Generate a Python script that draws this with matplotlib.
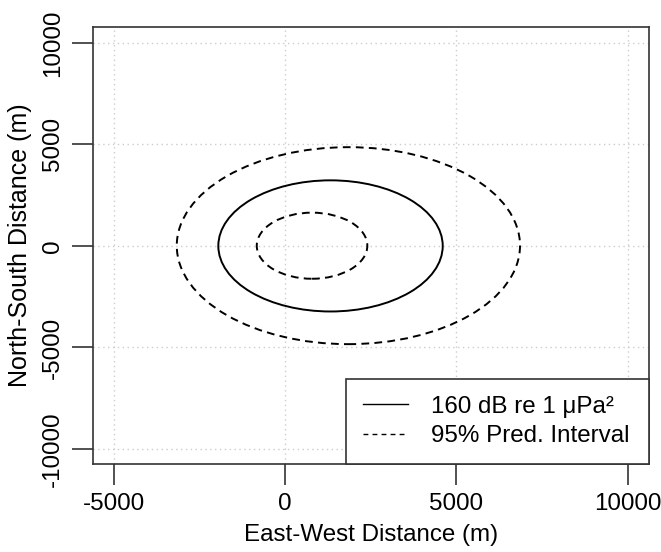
import matplotlib
matplotlib.use("Agg")
import matplotlib.pyplot as plt
from matplotlib.patches import Ellipse
from matplotlib.lines import Line2D

plt.rcParams['font.family'] = ['Liberation Sans', 'DejaVu Sans']

# Contour ellipses (centre x, centre y, half-width, half-height)
contour_names = ["160 dB re 1 μPa²", "lower 95%", "upper 95%"]
center_x = [1327, 788, 1848]
center_y = [0, 10, 12]
half_width = [3272, 1612, 5005]
half_height = [3229, 1627, 4850]
line_kinds = ["solid", "dashed", "dashed"]

xticks = [-5000, 0, 5000, 10000]
yticks = [-10000, -5000, 0, 5000, 10000]
xlim = (-5590, 10606)
ylim = (-10740, 10780)

legend_labels = ["160 dB re 1 μPa²", "95% Pred. Interval"]

fig = plt.figure(figsize=(6.61, 5.52), dpi=100)
ax = fig.add_axes([0.1412, 0.1594, 0.8402, 0.7917])
FS = 17.4

for cx, cy, a, b, kind in zip(center_x, center_y, half_width, half_height, line_kinds):
    if kind == "solid":
        ls = "-"
    else:
        ls = (0, (4.0, 2.7))
    e = Ellipse((cx, cy), 2 * a, 2 * b, fill=False, edgecolor="black",
                linewidth=1.4, linestyle=ls, zorder=3)
    ax.add_patch(e)

ax.set_xlim(*xlim)
ax.set_ylim(*ylim)
ax.set_xticks(xticks)
ax.set_yticks(yticks)
ax.set_xticklabels([str(t) for t in xticks], fontsize=FS)
ax.set_yticklabels([str(t) for t in yticks], fontsize=FS, rotation=90, va="center")
ax.tick_params(axis="both", length=15, width=1.2, color="#333333", pad=6)
ax.grid(True, color="#cccccc", linestyle=(0, (1, 2.5)), linewidth=1.0, zorder=0)
for s in ax.spines.values():
    s.set_linewidth(1.2)
    s.set_color("#333333")

ax.set_xlabel("East-West Distance (m)", fontsize=FS, labelpad=6)
ax.set_ylabel("North-South Distance (m)", fontsize=18, labelpad=7)

handles = [Line2D([], [], color="black", lw=1.0, linestyle="-"),
           Line2D([], [], color="black", lw=1.0, linestyle=(0, (3.5, 3.0)))]
leg = ax.legend(handles, legend_labels, loc="lower right",
                bbox_to_anchor=(0.455, 0.0, 0.545, 0.2),
                mode="expand", borderaxespad=0, fontsize=FS,
                handlelength=1.85, handletextpad=0.95, borderpad=0.7,
                labelspacing=0.3, fancybox=False, framealpha=1,
                edgecolor="#333333")
leg.get_frame().set_linewidth(1.2)

fig.savefig("out.png", dpi=100)
